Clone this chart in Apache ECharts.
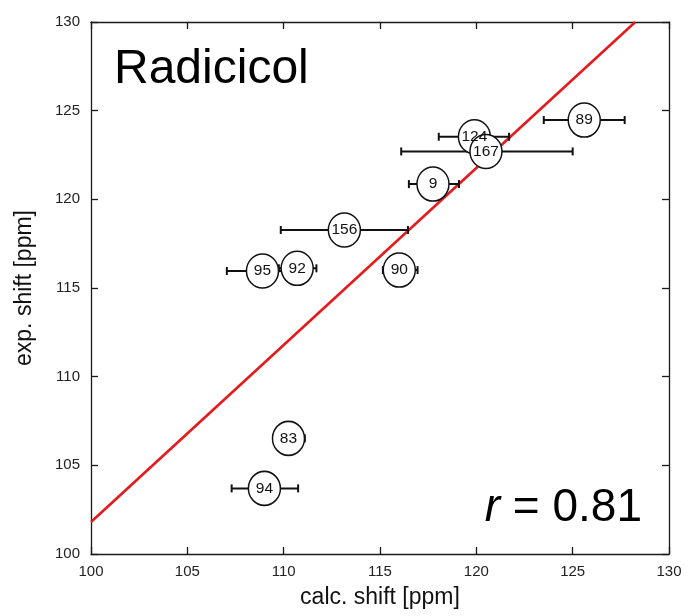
<!DOCTYPE html>
<html><head><meta charset="utf-8">
<script src="https://cdn.jsdelivr.net/npm/echarts@6/dist/echarts.min.js"></script>
<style>html,body{margin:0;padding:0;background:#fff}#c{width:688px;height:616px}</style>
</head><body><div id="c"></div>
<script>
// ---- data ----
const pointLabels = ['89','124','167','9','156','95','92','90','83','94'];
const calcShift  = [125.6, 119.9, 120.5, 117.75, 113.15, 108.9, 110.7, 116.0, 110.25, 109.0];
const expShift   = [124.47, 123.53, 122.7, 120.86, 118.27, 115.96, 116.11, 116.01, 106.52, 103.7];
const errLow     = [123.5, 118.05, 116.1, 116.5, 109.85, 107.05, 109.75, 115.15, 109.45, 107.3];
const errHigh    = [127.7, 121.7, 125.0, 119.1, 116.45, 110.7, 111.7, 116.95, 111.1, 110.75];
const fitLineX   = [100, 128.25];
const fitLineY   = [101.8, 130];
const axisMin = 100, axisMax = 130, axisStep = 5;
const titleText = 'Radicicol';
const corrText = '0.81';

const FONT = '"Liberation Sans", Arial, Helvetica, sans-serif';
const chart = echarts.init(document.getElementById('c'), null, {renderer:'canvas'});

const axisBase = (pos, showLabel) => ({
  type:'value', min:axisMin, max:axisMax, interval:axisStep, position:pos,
  axisLine:{show:true, onZero:false, lineStyle:{color:'#1a1a1a', width:1.3}},
  axisTick:{show:true, inside:true, length:7, lineStyle:{color:'#1a1a1a', width:1.3}},
  axisLabel:{show:showLabel, color:'#222', fontSize:15, fontFamily:FONT, margin:10},
  splitLine:{show:false}
});

const xMain = Object.assign(axisBase('bottom', true), {
  name:'calc. shift [ppm]', nameLocation:'middle', nameGap:32,
  nameTextStyle:{fontSize:23, color:'#111', fontFamily:FONT}
});
const yMain = Object.assign(axisBase('left', true), {
  name:'exp. shift [ppm]', nameLocation:'middle', nameGap:55,
  nameTextStyle:{fontSize:23, color:'#111', fontFamily:FONT}
});
yMain.axisLabel.margin = 11;

const fitData = fitLineX.map((x,i)=>[x, fitLineY[i]]);
const errData = errLow.map((lo,i)=>[lo, errHigh[i], expShift[i]]);
const ptData = calcShift.map((x,i)=>({value:[x, expShift[i]], name:pointLabels[i]}));

chart.setOption({
  animation:false,
  backgroundColor:'#fff',
  grid:{left:91, right:19, top:22, bottom:62, containLabel:false},
  xAxis:[xMain, axisBase('top', false)],
  yAxis:[yMain, axisBase('right', false)],
  series:[
    {type:'line', data:fitData, symbol:'none', z:1,
     lineStyle:{color:'#e41a1c', width:2.6}},
    {type:'custom', z:2, data:errData, encode:{x:[0,1], y:2},
     renderItem:function(params, api){
       const y = api.value(2);
       const p1 = api.coord([api.value(0), y]);
       const p2 = api.coord([api.value(1), y]);
       const h = 4;
       const st = {stroke:'#111', lineWidth:2};
       return {type:'group', children:[
         {type:'line', shape:{x1:p1[0], y1:p1[1], x2:p2[0], y2:p2[1]}, style:st},
         {type:'line', shape:{x1:p1[0], y1:p1[1]-h, x2:p1[0], y2:p1[1]+h}, style:st},
         {type:'line', shape:{x1:p2[0], y1:p2[1]-h, x2:p2[0], y2:p2[1]+h}, style:st}
       ]};
     }},
    {type:'scatter', z:3, data:ptData, symbol:'circle', symbolSize:[32,34],
     itemStyle:{color:'#fff', borderColor:'#111', borderWidth:1.5, opacity:1},
     label:{show:true, position:'inside', formatter:'{b}', color:'#111', fontSize:15.5, fontFamily:FONT}}
  ],
  graphic:[
    {type:'text', x:114, y:70, z:10,
     style:{text:titleText, font:'48px '+FONT, fill:'#000', align:'left', verticalAlign:'middle'}},
    {type:'text', x:642, y:508, z:10,
     style:{text:'{i|r} = '+corrText, fontSize:46, fontFamily:FONT, fill:'#000', align:'right', verticalAlign:'middle',
            rich:{i:{fontStyle:'italic', fontSize:46, fontFamily:FONT, fill:'#000'}}}}
  ]
});
</script>
</body></html>
